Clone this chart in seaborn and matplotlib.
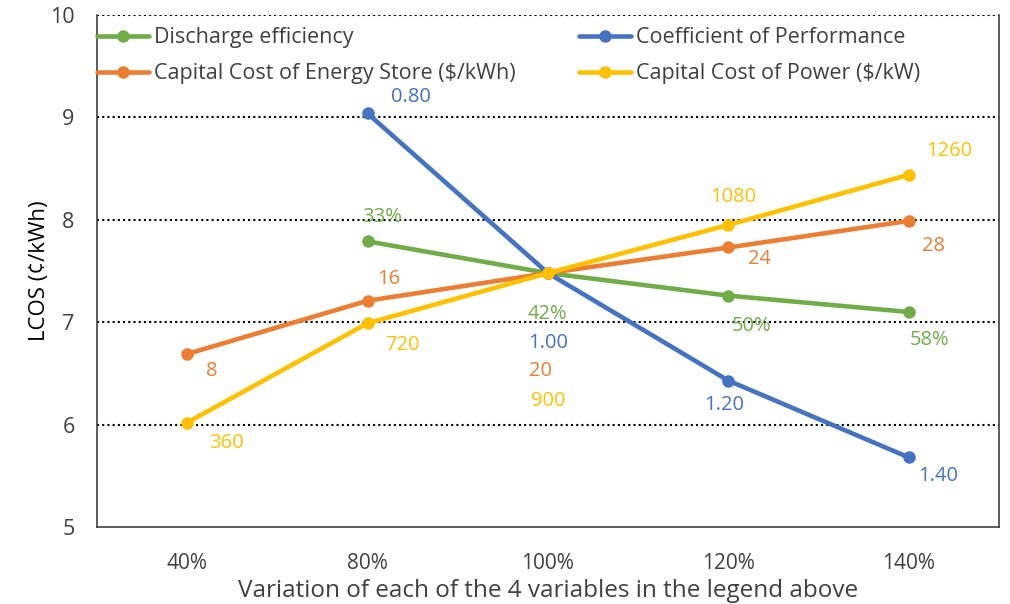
import seaborn as sns
import pandas as pd
import numpy as np
import matplotlib.pyplot as plt

sns.set_theme(style="white")
plt.rcParams['font.family'] = ['Open Sans', 'DejaVu Sans']

# Data
categories = ['40%', '80%', '100%', '120%', '140%']
series_names = ['Discharge efficiency', 'Coefficient of Performance',
                'Capital Cost of Energy Store ($/kWh)', 'Capital Cost of Power ($/kW)']
colors = ['#70AD47', '#4472C4', '#ED7D31', '#FFC000']

discharge_x = ['80%', '100%', '120%', '140%']
discharge_y = [7.79, 7.48, 7.26, 7.10]
discharge_lbl = ['33%', '42%', '50%', '58%']

cop_x = ['80%', '100%', '120%', '140%']
cop_y = [9.04, 7.48, 6.43, 5.68]
cop_lbl = ['0.80', '1.00', '1.20', '1.40']

store_x = ['40%', '80%', '100%', '120%', '140%']
store_y = [6.69, 7.21, 7.48, 7.73, 7.99]
store_lbl = ['8', '16', '20', '24', '28']

power_x = ['40%', '80%', '100%', '120%', '140%']
power_y = [6.02, 6.99, 7.48, 7.95, 8.44]
power_lbl = ['360', '720', '900', '1080', '1260']

# label offsets (pixels) relative to each point
discharge_off = [(14, 24), (0, -41), (23, -30), (21, -28)]
cop_off = [(43, 16), (0, -70), (-4, -24), (29, -19)]
store_off = [(25, -17), (21, 22), (-7, -98), (31, -12), (25, -25)]
power_off = [(39, -20), (35, -22), (0, -128), (5, 28), (41, 24)]

all_x = [discharge_x, cop_x, store_x, power_x]
all_y = [discharge_y, cop_y, store_y, power_y]
all_lbl = [discharge_lbl, cop_lbl, store_lbl, power_lbl]
all_off = [discharge_off, cop_off, store_off, power_off]

pos = {c: i for i, c in enumerate(categories)}
rows = []
for name, xs, ys in zip(series_names, all_x, all_y):
    for x, y in zip(xs, ys):
        rows.append({'variation': pos[x], 'LCOS': y, 'series': name})
df = pd.DataFrame(rows)

fig = plt.figure(figsize=(10.1, 6.04), dpi=100)
ax = fig.add_axes([0.096, 0.1275, 0.893, 0.8475])

sns.lineplot(data=df, x='variation', y='LCOS', hue='series', hue_order=series_names,
             palette=colors, marker='o', markersize=9, markeredgewidth=0,
             linewidth=3.3, ax=ax)

text_col = '#404040'
for xs, ys, lbls, offs, col in zip(all_x, all_y, all_lbl, all_off, colors):
    for x, y, t, o in zip(xs, ys, lbls, offs):
        ax.annotate(t, (pos[x], y), xytext=o, textcoords='offset pixels',
                    ha='center', va='center', color=col, fontsize=14.5)

ax.set_xlim(-0.5, 4.5)
ax.set_ylim(5, 10)
ax.set_xticks(range(len(categories)))
ax.set_xticklabels(categories)
ax.set_yticks([5, 6, 7, 8, 9, 10])
ax.tick_params(axis='x', length=0, pad=19, labelsize=15, labelcolor=text_col)
ax.tick_params(axis='y', length=0, pad=16, labelsize=15.5, labelcolor=text_col)
for v in [6, 7, 8, 9, 10]:
    ax.axhline(v, color='black', linestyle=(0, (1, 1.5)), linewidth=1.5, zorder=0)

for s in ['left', 'right', 'bottom']:
    ax.spines[s].set_color('#404040')
    ax.spines[s].set_linewidth(1.2)
ax.spines['top'].set_visible(False)

ax.set_xlabel('Variation of each of the 4 variables in the legend above',
              fontsize=17.5, color=text_col, labelpad=3)
ax.set_ylabel('LCOS (¢/kWh)', fontsize=16, color='black', labelpad=0)

handles, labels = ax.get_legend_handles_labels()
order = [0, 2, 1, 3]
ax.legend([handles[i] for i in order], [labels[i] for i in order], ncol=2,
          loc='upper left', bbox_to_anchor=(-0.013, 1.0), frameon=False,
          fontsize=15.5, handlelength=2.4, handletextpad=0.23, columnspacing=2.95,
          labelspacing=0.7, labelcolor=text_col, borderaxespad=0.16)

fig.savefig('out.png', dpi=100)
